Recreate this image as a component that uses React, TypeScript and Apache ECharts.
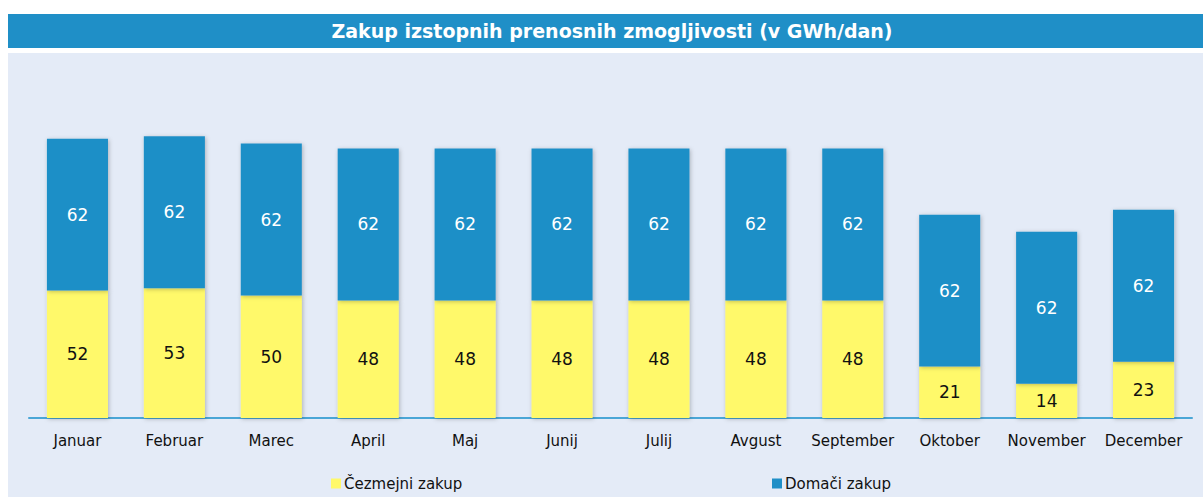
import React, { useEffect, useRef } from "react";
import * as echarts from "echarts";

const titleText = "Zakup izstopnih prenosnih zmogljivosti (v GWh/dan)";
const months = ["Januar", "Februar", "Marec", "April", "Maj", "Junij", "Julij", "Avgust", "September", "Oktober", "November", "December"];
const crossBorder = [52, 53, 50, 48, 48, 48, 48, 48, 48, 21, 14, 23];
const domestic = [62, 62, 62, 62, 62, 62, 62, 62, 62, 62, 62, 62];
const seriesNames = ["Čezmejni zakup", "Domači zakup"];

const FONT = "DejaVu Sans";
const BLUE = "#1F8FC7";
const YELLOW = "#FFF96A";

export default function App() {
  const ref = useRef<HTMLDivElement>(null);
  useEffect(() => {
    document.body.style.margin = "0";
    const chart = echarts.init(ref.current!, null, { renderer: "svg" });
    const legendCommon = {
      padding: 0, itemWidth: 10, itemHeight: 10, itemGap: 5, icon: "rect", top: 476,
      textStyle: { fontSize: 15, color: "#111", fontFamily: FONT, padding: [0, 0, 0, -2] },
    };
    chart.setOption({
      animation: false,
      textStyle: { fontFamily: FONT },
      graphic: [
        { type: "rect", shape: { x: 8, y: 14, width: 1195, height: 34 }, style: { fill: BLUE }, z: -10 },
        { type: "rect", shape: { x: 8, y: 53, width: 1195, height: 444 }, style: { fill: "#E4EBF7" }, z: -10 },
        {
          type: "text", x: 612, y: 31, z: 10,
          style: { text: titleText, fill: "#fff", font: `bold 19px "${FONT}"`, textAlign: "center", textVerticalAlign: "middle" },
        },
      ],
      legend: [
        { ...legendCommon, data: [seriesNames[0]], left: 331 },
        { ...legendCommon, data: [seriesNames[1]], left: 772 },
      ],
      grid: { left: 29, right: 11, top: 75, bottom: 79 },
      xAxis: {
        type: "category",
        data: months,
        axisLine: { lineStyle: { color: "#4AA6D6", width: 2 } },
        axisTick: { show: false },
        axisLabel: { color: "#111", fontSize: 15, margin: 15, fontFamily: FONT, interval: 0 },
      },
      yAxis: { type: "value", min: 0, max: 140, show: false, splitLine: { show: false } },
      series: [
        {
          name: seriesNames[0], type: "bar", stack: "a", data: crossBorder, barWidth: "63%",
          itemStyle: { color: YELLOW, shadowColor: "rgba(0,0,0,0.25)", shadowBlur: 4, shadowOffsetX: 1, shadowOffsetY: 1 },
          label: { show: true, position: "inside", color: "#111", fontSize: 17, fontFamily: FONT },
        },
        {
          name: seriesNames[1], type: "bar", stack: "a", data: domestic, barWidth: "63%",
          itemStyle: { color: BLUE, shadowColor: "rgba(0,0,0,0.25)", shadowBlur: 4, shadowOffsetX: 1, shadowOffsetY: 1 },
          label: { show: true, position: "inside", color: "#fff", fontSize: 17, fontFamily: FONT },
        },
      ],
    });
    return () => chart.dispose();
  }, []);
  return <div ref={ref} style={{ width: 1203, height: 497 }} />;
}
